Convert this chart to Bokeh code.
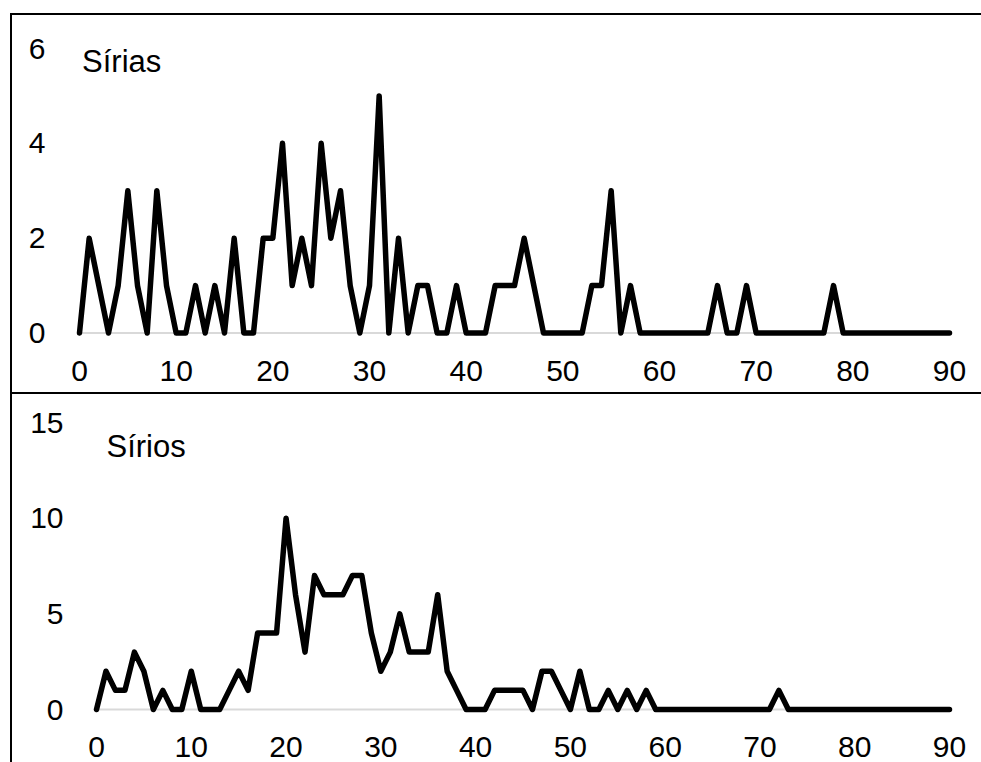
from bokeh.plotting import figure
from bokeh.layouts import column
from bokeh.models import Range1d, FixedTicker, Label
from bokeh.embed import file_html
from bokeh.resources import INLINE

# ---- data -------------------------------------------------------------
ages = list(range(0, 91))

sirias = [0, 2, 1, 0, 1, 3, 1, 0, 3, 1,
          0, 0, 1, 0, 1, 0, 2, 0, 0, 2,
          2, 4, 1, 2, 1, 4, 2, 3, 1, 0,
          1, 5, 0, 2, 0, 1, 1, 0, 0, 1,
          0, 0, 0, 1, 1, 1, 2, 1, 0, 0,
          0, 0, 0, 1, 1, 3, 0, 1, 0, 0,
          0, 0, 0, 0, 0, 0, 1, 0, 0, 1,
          0, 0, 0, 0, 0, 0, 0, 0, 1, 0,
          0, 0, 0, 0, 0, 0, 0, 0, 0, 0,
          0]

sirios = [0, 2, 1, 1, 3, 2, 0, 1, 0, 0,
          2, 0, 0, 0, 1, 2, 1, 4, 4, 4,
          10, 6, 3, 7, 6, 6, 6, 7, 7, 4,
          2, 3, 5, 3, 3, 3, 6, 2, 1, 0,
          0, 0, 1, 1, 1, 1, 0, 2, 2, 1,
          0, 2, 0, 0, 1, 0, 1, 0, 1, 0,
          0, 0, 0, 0, 0, 0, 0, 0, 0, 0,
          0, 0, 1, 0, 0, 0, 0, 0, 0, 0,
          0, 0, 0, 0, 0, 0, 0, 0, 0, 0,
          0]

x_ticks = [0, 10, 20, 30, 40, 50, 60, 70, 80, 90]
y_ticks_top = [0, 2, 4, 6]
y_ticks_bottom = [0, 5, 10, 15]
panel_labels = ["Sírias", "Sírios"]

FONT = "Liberation Sans"
TICK_FS = "30px"
LABEL_FS = "31px"


def make_panel(values, label, y_ticks, x_rng, y_rng, frame_w, frame_h,
               borders, y_standoff, x_standoff, label_pos, bg):
    p = figure(frame_width=frame_w, frame_height=frame_h,
               x_range=Range1d(*x_rng), y_range=Range1d(*y_rng),
               output_backend="svg", toolbar_location=None,
               min_border_left=borders[0], min_border_right=borders[1],
               min_border_top=borders[2], min_border_bottom=borders[3],
               background_fill_color="white",
               border_fill_color=None, border_fill_alpha=0,
               outline_line_color=None)
    p.styles = {"background": bg}
    p.xgrid.visible = False
    p.ygrid.visible = False

    for ax, ticks, so in ((p.xaxis[0], x_ticks, x_standoff),
                          (p.yaxis[0], y_ticks, y_standoff)):
        ax.ticker = FixedTicker(ticks=ticks)
        ax.axis_line_color = None
        ax.major_tick_line_color = None
        ax.minor_tick_line_color = None
        ax.major_tick_out = 0
        ax.major_tick_in = 0
        ax.major_label_standoff = so
        ax.major_label_text_font = FONT
        ax.major_label_text_font_size = TICK_FS
        ax.major_label_text_color = "black"

    # light baseline at zero
    p.segment(x0=[ages[0]], x1=[ages[-1]], y0=[0], y1=[0],
              line_color="#d9d9d9", line_width=2)
    p.line(ages, values, line_color="black", line_width=5.5,
           line_join="round", line_cap="round")

    p.add_layout(Label(x=label_pos[0], y=label_pos[1], text=label,
                       text_font=FONT, text_font_size=LABEL_FS,
                       text_color="black", text_align="left",
                       text_baseline="alphabetic"))
    return p


BLACK = "linear-gradient(#000, #000)"
top_bg = (f"{BLACK} 10px 13px / 2px 420px no-repeat, "
          f"{BLACK} 10px 13px / 1200px 2px no-repeat, "
          f"{BLACK} 10px 392px / 1200px 2px no-repeat, white")
bottom_bg = f"{BLACK} 10px 0px / 2px 500px no-repeat, white"

top = make_panel(sirias, panel_labels[0], y_ticks_top,
                 x_rng=(-0.931, 91.655), y_rng=(-0.158, 6.38),
                 frame_w=895, frame_h=310,
                 borders=(70, 16, 30, 54),
                 y_standoff=25, x_standoff=20,
                 label_pos=(0.26, 5.72),
                 bg=top_bg)

bottom = make_panel(sirios, panel_labels[1], y_ticks_bottom,
                    x_rng=(-2.743, 91.69), y_rng=(-0.261, 15.889),
                    frame_w=895, frame_h=309,
                    borders=(70, 16, 11, 48),
                    y_standoff=7, x_standoff=22,
                    label_pos=(1.05, 13.75),
                    bg=bottom_bg)

layout = column(top, bottom, spacing=0)

open("out.html", "w").write(file_html(layout, INLINE))
